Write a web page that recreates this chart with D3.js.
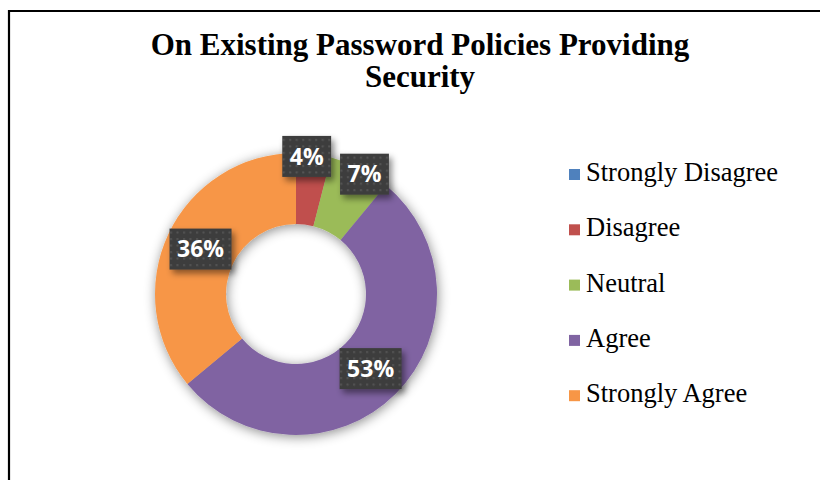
<!DOCTYPE html>
<html>
<head>
<meta charset="utf-8">
<script src="https://cdn.jsdelivr.net/npm/d3@7"></script>
<style>
  html, body { margin: 0; padding: 0; background: #fff; }
  svg { display: block; }
</style>
</head>
<body>
<svg id="chart" width="820" height="480"></svg>
<script>
// Survey responses: "On Existing Password Policies Providing Security"
const categories = ["Strongly Disagree", "Disagree", "Neutral", "Agree", "Strongly Agree"];
const percents   = [0, 4, 7, 53, 36];
const colors     = ["#4f81bd", "#c0504d", "#9bbb59", "#8064a2", "#f79646"];
const titleLines = ["On Existing Password Policies Providing", "Security"];

const W = 820, H = 480;
const svg = d3.select("#chart");
const defs = svg.append("defs");

// soft shadow under the ring
const ringShadow = defs.append("filter").attr("id", "ringShadow")
  .attr("x", "-20%").attr("y", "-20%").attr("width", "140%").attr("height", "140%");
ringShadow.append("feDropShadow")
  .attr("dx", 1).attr("dy", 2).attr("stdDeviation", 6)
  .attr("flood-color", "#000").attr("flood-opacity", 0.45);

// drop shadow for the value boxes
const boxShadow = defs.append("filter").attr("id", "boxShadow")
  .attr("x", "-30%").attr("y", "-30%").attr("width", "170%").attr("height", "170%");
boxShadow.append("feDropShadow")
  .attr("dx", 3).attr("dy", 4).attr("stdDeviation", 3)
  .attr("flood-color", "#000").attr("flood-opacity", 0.45);

// dotted texture for the value boxes
const dots = defs.append("pattern").attr("id", "dots")
  .attr("patternUnits", "userSpaceOnUse").attr("width", 6.5).attr("height", 6.5);
dots.append("rect").attr("width", 6.5).attr("height", 6.5).attr("fill", "#3d3d3d");
dots.append("rect").attr("x", 2).attr("y", 2).attr("width", 2).attr("height", 2).attr("fill", "#555555");

// chart frame (left and top edges visible)
svg.append("path")
  .attr("d", "M9,480 V11 H820")
  .attr("fill", "none").attr("stroke", "#000").attr("stroke-width", 2.2);

// title, two lines
svg.append("g").selectAll("text").data(titleLines).join("text")
  .attr("x", 420).attr("y", (d, i) => 55 + i * 31.5)
  .attr("text-anchor", "middle")
  .style("font-family", "'Liberation Serif', 'Times New Roman', serif")
  .style("font-weight", "bold").style("font-size", "31px").attr("fill", "#000")
  .text(d => d);

// donut
const cx = 296, cy = 294, outerR = 141, innerR = 70;
const data = categories.map((c, i) => ({ name: c, value: percents[i], color: colors[i] }));

const pie = d3.pie().value(d => d.value).sort(null);
const arcs = pie(data);
const arc = d3.arc().innerRadius(innerR).outerRadius(outerR);

const g = svg.append("g").attr("transform", `translate(${cx},${cy})`);
g.append("g").attr("filter", "url(#ringShadow)")
  .selectAll("path").data(arcs.filter(a => a.data.value > 0)).join("path")
  .attr("d", arc).attr("fill", d => d.data.color);

// value labels: large slices at the ring's middle, thin slices on the rim,
// then nudged apart angularly so the boxes do not collide
const fontPx = 23, padX = 7.5, boxH = 41;
const measure = svg.append("text")
  .style("font-family", "'Open Sans', sans-serif").style("font-weight", "bold")
  .style("font-size", fontPx + "px");

const labels = arcs.filter(a => a.data.value > 0).map(a => {
  measure.text(a.data.value + "%");
  const tw = measure.node().getComputedTextLength();
  const small = a.data.value < 10;
  return {
    text: a.data.value + "%",
    angle: (a.startAngle + a.endAngle) / 2,
    r: small ? outerR - 3 : (innerR + outerR) / 2,
    w: tw + padX * 2
  };
});
measure.remove();

function pos(l) { return [l.r * Math.sin(l.angle), -l.r * Math.cos(l.angle)]; }
function overlapX(a, b) {
  const [ax, ay] = pos(a), [bx, by] = pos(b);
  const gap = 8;
  const xo = Math.abs(ax - bx) < (a.w + b.w) / 2 + gap;
  const yo = Math.abs(ay - by) < boxH;
  return xo && yo;
}
for (let iter = 0; iter < 200; iter++) {
  let moved = false;
  for (let i = 0; i < labels.length - 1; i++) {
    const a = labels[i], b = labels[i + 1];
    if (overlapX(a, b)) {
      a.angle -= 0.004; b.angle += 0.004; moved = true;
    }
  }
  if (!moved) break;
}

const lg = g.selectAll("g.lbl").data(labels).join("g").attr("class", "lbl")
  .attr("transform", d => { const [x, y] = pos(d); return `translate(${x},${y})`; });
lg.append("rect")
  .attr("x", d => -d.w / 2).attr("y", -boxH / 2)
  .attr("width", d => d.w).attr("height", boxH)
  .attr("fill", "url(#dots)").attr("filter", "url(#boxShadow)");
lg.append("text")
  .attr("text-anchor", "middle").attr("dy", "0.36em")
  .style("font-family", "'Open Sans', sans-serif").style("font-weight", "bold")
  .style("font-size", fontPx + "px").attr("fill", "#fff")
  .text(d => d.text);

// legend
const legend = svg.append("g").attr("transform", "translate(569,181)");
const rowH = 55.3;
const item = legend.selectAll("g").data(data).join("g")
  .attr("transform", (d, i) => `translate(0,${i * rowH})`);
item.append("rect").attr("x", 0).attr("y", -12).attr("width", 11).attr("height", 11)
  .attr("fill", d => d.color);
item.append("text").attr("x", 17).attr("y", 0)
  .style("font-family", "'Liberation Serif', 'Times New Roman', serif")
  .style("font-size", "26.5px").attr("fill", "#000")
  .text(d => d.name);
</script>
</body>
</html>
